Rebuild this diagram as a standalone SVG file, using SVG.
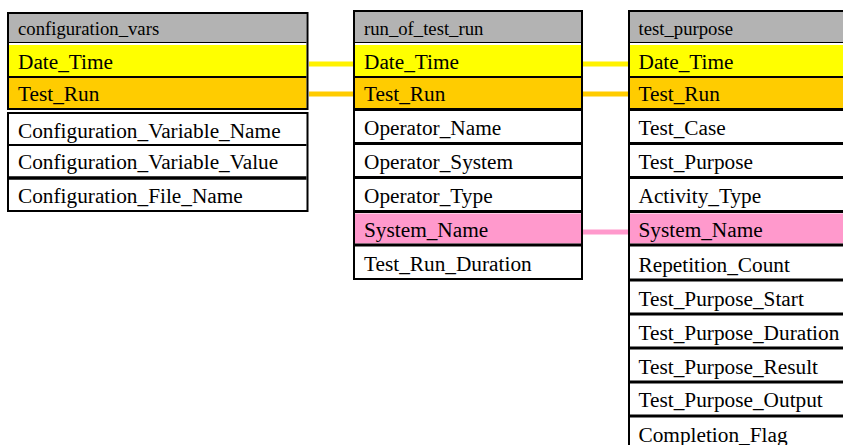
<svg xmlns="http://www.w3.org/2000/svg" width="843" height="445" viewBox="0 0 843 445">
<style>
.hd{fill:#b3b3b3}
.k1{fill:#ffff00}
.k2{fill:#ffcc00}
.k3{fill:#ff99cc}
.wh{fill:#ffffff}
.bx{fill:none;stroke:#000;stroke-width:2}
.sp{stroke:#000;stroke-width:3}
.sp2{stroke:#000;stroke-width:2}
.thin{stroke:#000;stroke-width:1}
.h{font-family:"Liberation Serif","Times New Roman",serif;font-size:18.7px;fill:#000}
.f{font-family:"Liberation Serif","Times New Roman",serif;font-size:21.3px;fill:#000}
.c{fill:none;stroke-width:5}
</style>
<rect width="843" height="445" fill="#fff"/>
<g id="connectors">
<line class="c" x1="309" y1="64" x2="354" y2="64" stroke="#fff200"/>
<line class="c" x1="309" y1="94" x2="354" y2="94" stroke="#ffcc00"/>
<line class="c" x1="583" y1="64" x2="629" y2="64" stroke="#fff200"/>
<line class="c" x1="583" y1="94" x2="629" y2="94" stroke="#ffcc00"/>
<line class="c" x1="583" y1="232" x2="629" y2="232" stroke="#ff99cc"/>
</g>
<g id="configuration_vars">
<rect class="hd" x="9" y="14" width="297.5" height="28"/>
<line class="thin" x1="9" y1="42.5" x2="306.5" y2="42.5"/>
<rect class="k1" x="9" y="45" width="297.5" height="31"/>
<line class="sp2" x1="9" y1="77" x2="306.5" y2="77"/>
<rect class="k2" x="9" y="78" width="297.5" height="30"/>
<rect class="bx" x="8" y="13" width="299.5" height="96"/>
<rect class="wh" x="9" y="114" width="297.5" height="96"/>
<line class="sp2" x1="9" y1="145" x2="306.5" y2="145"/>
<line class="sp" x1="9" y1="178" x2="306.5" y2="178" style="stroke-width:3.5"/>
<rect class="bx" x="8" y="113" width="299.5" height="98"/>
<text class="h" x="18" y="34.5">configuration_vars</text>
<text class="f" x="18" y="68.5">Date_Time</text>
<text class="f" x="18" y="100.5">Test_Run</text>
<text class="f" x="18" y="138">Configuration_Variable_Name</text>
<text class="f" x="18" y="168.5">Configuration_Variable_Value</text>
<text class="f" x="18" y="202.5">Configuration_File_Name</text>
</g>
<g id="run_of_test_run">
<rect class="hd" x="355" y="12" width="226" height="30"/>
<line class="thin" x1="355" y1="42.5" x2="581" y2="42.5"/>
<rect class="k1" x="355" y="45" width="226" height="31"/>
<line class="sp2" x1="355" y1="77" x2="581" y2="77"/>
<rect class="k2" x="355" y="78" width="226" height="30"/>
<line class="sp" x1="355" y1="109.5" x2="581" y2="109.5"/>
<line class="sp" x1="355" y1="143.5" x2="581" y2="143.5"/>
<line class="sp" x1="355" y1="177.5" x2="581" y2="177.5"/>
<rect class="k3" x="355" y="213.5" width="226" height="30"/>
<line class="sp" x1="355" y1="211.5" x2="581" y2="211.5"/>
<line class="sp" x1="355" y1="245" x2="581" y2="245"/>
<rect class="bx" x="354" y="11" width="228" height="268"/>
<text class="h" x="364" y="34.5">run_of_test_run</text>
<text class="f" x="364" y="68.5">Date_Time</text>
<text class="f" x="364" y="100.5">Test_Run</text>
<text class="f" x="364" y="135">Operator_Name</text>
<text class="f" x="364" y="169">Operator_System</text>
<text class="f" x="364" y="203">Operator_Type</text>
<text class="f" x="364" y="237">System_Name</text>
<text class="f" x="364" y="271">Test_Run_Duration</text>
</g>
<g id="test_purpose">
<rect class="hd" x="630" y="12" width="230" height="30"/>
<line class="thin" x1="630" y1="42.5" x2="860" y2="42.5"/>
<rect class="k1" x="630" y="45" width="230" height="31"/>
<line class="sp2" x1="630" y1="77" x2="860" y2="77"/>
<rect class="k2" x="630" y="78" width="230" height="30"/>
<line class="sp" x1="630" y1="109.5" x2="860" y2="109.5"/>
<line class="sp" x1="630" y1="143.5" x2="860" y2="143.5"/>
<line class="sp" x1="630" y1="177.5" x2="860" y2="177.5"/>
<rect class="k3" x="630" y="213.5" width="230" height="30"/>
<line class="sp" x1="630" y1="211.5" x2="860" y2="211.5"/>
<line class="sp" x1="630" y1="245" x2="860" y2="245"/>
<line class="sp" x1="630" y1="280" x2="860" y2="280"/>
<line class="sp" x1="630" y1="314" x2="860" y2="314"/>
<line class="sp" x1="630" y1="348" x2="860" y2="348"/>
<line class="sp" x1="630" y1="382" x2="860" y2="382"/>
<line class="sp" x1="630" y1="416" x2="860" y2="416"/>
<rect class="bx" x="629" y="11" width="232" height="460"/>
<text class="h" x="638.5" y="34.5">test_purpose</text>
<text class="f" x="638.5" y="68.5">Date_Time</text>
<text class="f" x="638.5" y="100.5">Test_Run</text>
<text class="f" x="638.5" y="135">Test_Case</text>
<text class="f" x="638.5" y="169">Test_Purpose</text>
<text class="f" x="638.5" y="203">Activity_Type</text>
<text class="f" x="638.5" y="237">System_Name</text>
<text class="f" x="638.5" y="271.5">Repetition_Count</text>
<text class="f" x="638.5" y="305.5">Test_Purpose_Start</text>
<text class="f" x="638.5" y="339.5">Test_Purpose_Duration</text>
<text class="f" x="638.5" y="373.5">Test_Purpose_Result</text>
<text class="f" x="638.5" y="407">Test_Purpose_Output</text>
<text class="f" x="638.5" y="441.5">Completion_Flag</text>
</g>
</svg>
